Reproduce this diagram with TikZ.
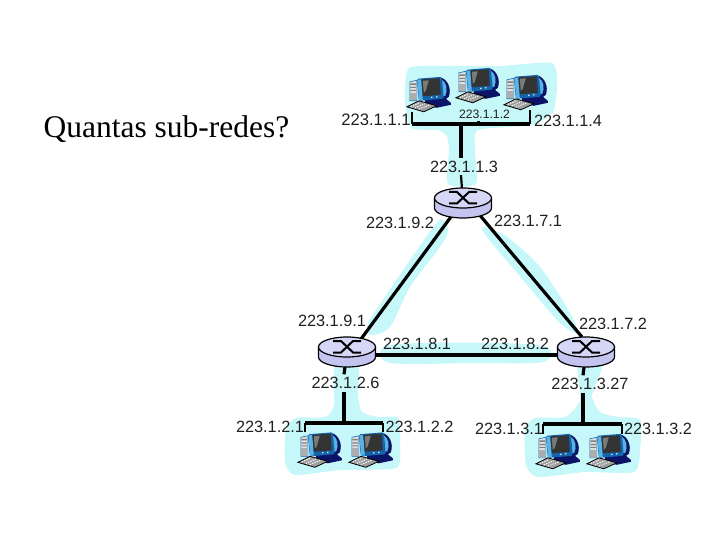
\documentclass[tikz,border=0pt]{standalone}
\usepackage{fontspec}
\setmainfont{Liberation Sans}
\newfontfamily\titlefont{Liberation Serif}
\usetikzlibrary{shapes.geometric}
\definecolor{blobc}{HTML}{C6F8FA}
\definecolor{routerside}{HTML}{C4C4F0}
\definecolor{routertop}{HTML}{D6D6F6}
\definecolor{pcblue}{HTML}{1464AC}
\definecolor{pclight}{HTML}{58B4E4}
\definecolor{pcnavy}{HTML}{0C1468}
\definecolor{lab}{HTML}{202020}
\tikzset{
  x=1pt,y=-1pt,
  blob/.style={fill=blobc,draw=none},
  ip/.style={font=\fontsize{16.3}{18}\selectfont,text=lab,inner sep=0pt},
  ipsmall/.style={font=\fontsize{12.2}{14}\selectfont,text=lab,inner sep=0pt},
  gaplab/.style={ip,minimum height=17pt},
  heavy/.style={line width=3.2pt,black},
  medium/.style={line width=2.2pt,black},
  routerbox/.style={ellipse,minimum width=57pt,minimum height=30pt,inner sep=0pt,draw=none},
  pcbox/.style={rectangle,minimum width=45pt,minimum height=35pt,inner sep=0pt,draw=none},
  pics/routerpic/.style={code={
    \fill[routerside,draw=black,line width=1.2pt] (-28.5,-5) -- (-28.5,5)
      arc[x radius=28.5,y radius=10,start angle=180,end angle=0] -- (28.5,-5) -- cycle;
    \fill[routertop,draw=black,line width=1.2pt] (0,-5) ellipse[x radius=28.5,y radius=10];
    \draw[black,line width=2pt,line join=miter] (-14,-11) -- (-6,-11) -- (6,0.5) -- (14,0.5);
    \draw[black,line width=2pt,line join=miter] (14,-11) -- (6,-11) -- (-6,0.5) -- (-14,0.5);
  }},
  pics/pcpic/.style={code={
    % stand / base
    \fill[pcnavy] (18,22) -- (38,21) -- (44,26) -- (44,28) -- (30,31) -- (18,28) -- cycle;
    % crescent behind the monitor
    \fill[pcnavy] (33,0.5) .. controls (41,2) and (45,12) .. (42,20) -- (34,26) -- cycle;
    \fill[pclight] (35,3) .. controls (40,6) and (41,13) .. (38.5,19) -- (35,20) -- cycle;
    % monitor
    \fill[pcblue,rounded corners=1.5pt] (10,2) -- (35,0) -- (37,22) -- (12,24) -- cycle;
    \fill[pclight] (10.5,3) -- (14.5,2.6) -- (16,23) -- (12.5,23.5) -- cycle;
    \fill[black!80] (14.5,2.5) -- (33,1.5) -- (34,18) -- (16,19.5) -- cycle;
    \fill[black!52] (16,4) -- (22,3.5) -- (19,14) -- (17,16) -- cycle;
    \fill[white] (25,20.5) circle[radius=0.8] (30,20) circle[radius=0.8];
    % tower
    \fill[black!12,draw=pcblue,line width=0.6pt] (3,5) -- (10,3.5) -- (10,24) -- (3,24) -- cycle;
    \fill[black!50] (3.6,6.5) rectangle (9.4,8) (3.6,10) rectangle (9.4,11.2) (3.6,13) rectangle (9.4,14);
    \fill[black!32] (3.6,16) rectangle (9.4,23.4);
    % keyboard
    \fill[black!38,draw=black,line width=0.8pt] (0,30) -- (12,24) -- (30,29) -- (17,35) -- cycle;
    \draw[white,line width=1pt,dash pattern=on 1.3pt off 1.2pt] (4,29.8) -- (13,25.8) (8,31) -- (18,27) (12,32.3) -- (23,28);
  }}
}
\begin{document}
\begin{tikzpicture}
\useasboundingbox (0,0) rectangle (720,540);
\fill[white] (0,0) rectangle (720,540);

% light-blue subnet areas
\fill[blob] plot[smooth cycle,tension=0.35] coordinates {(409,68) (450,66) (500,66) (552,63) (557,85) (553,112) (532,125)
  (478,130) (475,150) (476,184) (448,184) (449,150) (447,136) (438,130) (411,128) (405,100)};
\fill[blob] plot[smooth cycle,tension=0.4] coordinates {(335,366) (358,366) (358,395) (362,412) (378,417) (398,418)
  (400,445) (396,468) (340,470) (295,475) (285,462) (286,430) (296,418) (325,417) (334,405)};
\fill[blob] plot[smooth cycle,tension=0.4] coordinates {(578,366) (602,366) (592,395) (600,412) (618,417) (640,420)
  (640,450) (634,472) (585,472) (538,477) (526,465) (525,430) (535,418) (565,417) (580,400)};
\fill[blob] plot[smooth cycle,tension=0.5] coordinates {(440,220) (448,230) (440,247) (410,287) (390,327) (370,335) (368,323) (383,300) (417,250)};
\fill[blob] plot[smooth cycle,tension=0.5] coordinates {(483,227) (507,237) (540,267) (570,313) (578,333) (560,323) (523,280) (487,237)};
\fill[blob] plot[smooth cycle,tension=0.5] coordinates {(383,347) (420,343) (500,343) (547,347) (543,362) (473,363) (390,363)};

% hidden node boxes
\node[routerbox] (r1) at (463,203) {};
\node[routerbox] (r2) at (347,352) {};
\node[routerbox] (r3) at (586,352) {};
\node[pcbox] (p1) at (429.5,94.5) {};
\node[pcbox] (p2) at (478.5,85.5) {};
\node[pcbox] (p3) at (526.5,92.5) {};
\node[pcbox] (p4) at (320.5,450) {};
\node[pcbox] (p5) at (371.5,450) {};
\node[pcbox] (p6) at (558.5,451.5) {};
\node[pcbox] (p7) at (609.5,451.5) {};
\coordinate (b1l) at (412,124);
\coordinate (b1r) at (530,124);
\coordinate (b1m) at (461,124);
\coordinate (b2l) at (305,423);
\coordinate (b2r) at (383,423);
\coordinate (b2m) at (344,423);
\coordinate (b3l) at (543,424);
\coordinate (b3r) at (622,424);
\coordinate (b3m) at (583,424);

% labels
\node[ipsmall] (l112) at (484.5,114) {223.1.1.2};
\node[ip,font=\fontsize{16.6}{18}\selectfont] (l111) at (376,119.5) {223.1.1.1};
\node[ip] (l114) at (568,120.5) {223.1.1.4};
\node[gaplab] (l113) at (464,166.5) {223.1.1.3};
\node[ip] (l192) at (400,223) {223.1.9.2};
\node[ip] (l171) at (528,221) {223.1.7.1};
\node[ip] (l191) at (332,321) {223.1.9.1};
\node[ip] (l181) at (417,344) {223.1.8.1};
\node[ip] (l182) at (515,344) {223.1.8.2};
\node[ip] (l172) at (613,324) {223.1.7.2};
\node[gaplab] (l126) at (345.5,383) {223.1.2.6};
\node[gaplab] (l1327) at (590,384) {223.1.3.27};
\node[ip] (l121) at (270,427) {223.1.2.1};
\node[ip] (l122) at (419.5,427) {223.1.2.2};
\node[ip] (l131) at (509,429) {223.1.3.1};
\node[ip] (l132) at (658,429) {223.1.3.2};
\node[anchor=center,inner sep=0pt,font=\titlefont\fontsize{31.5}{34}\selectfont,text=black] (title) at (166.5,129) {Quantas sub-redes?};

% connectors
\draw[heavy] (r1.-131) -- (r2.43);
\draw[heavy] (r1.-36) -- (r3.105);
\draw[heavy] ([yshift=-3pt]r2.east) -- ([yshift=-3pt]r3.west);
\draw[heavy] (b1l) -- (b1r);
\draw[heavy] (b1m) -- (b1m |- l113.north);
\draw[medium] (l113.south -| b1m) -- (r1);
\draw[medium] (b1l) -- (b1l |- p1.south);
\draw[medium] (b1r) -- (b1r |- p3.south);
\draw[medium] (b1m -| p2) -- ++(0,-3);
\draw[heavy] (b2l) -- (b2r);
\draw[medium] (b2l) -- (b2l |- p4.north);
\draw[medium] (b2r) -- (b2r |- p5.north);
\draw[heavy] (b2m) -- (b2m |- l126.south);
\draw[heavy] (l126.north -| b2m) -- (r2);
\draw[heavy] (b3l) -- (b3r);
\draw[medium] (b3l) -- (b3l |- p6.north);
\draw[medium] (b3r) -- (b3r |- p7.north);
\draw[heavy] (b3m) -- (b3m |- l1327.south);
\draw[heavy] (l1327.north -| b3m) -- (r3);

% equipment drawn over the line ends
\pic at (r1) {routerpic};
\pic at (r2) {routerpic};
\pic at (r3) {routerpic};
\pic at (p1.north west) {pcpic};
\pic at (p2.north west) {pcpic};
\pic at (p3.north west) {pcpic};
\pic at (p4.north west) {pcpic};
\pic at (p5.north west) {pcpic};
\pic at (p6.north west) {pcpic};
\pic at (p7.north west) {pcpic};
\end{tikzpicture}
\end{document}
